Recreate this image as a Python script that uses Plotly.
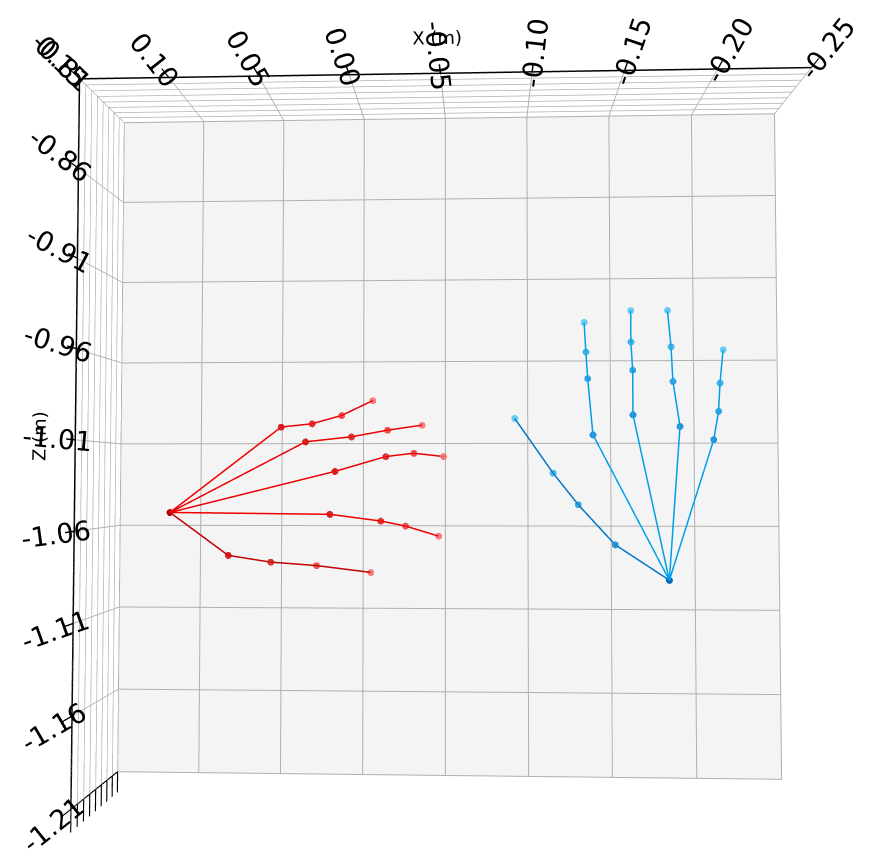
import plotly.graph_objects as go

# left hand (blue): wrist then five fingers, 4 joints each (x, z in metres)
left_wrist = (-0.184, -1.092)
left_fingers_x = [
    [-0.152, -0.130, -0.115, -0.092],
    [-0.139, -0.136, -0.135, -0.134],
    [-0.163, -0.163, -0.162, -0.162],
    [-0.191, -0.187, -0.186, -0.184],
    [-0.211, -0.214, -0.215, -0.217],
]
left_fingers_z = [
    [-1.071, -1.047, -1.028, -0.995],
    [-1.005, -0.971, -0.955, -0.937],
    [-0.993, -0.966, -0.949, -0.930],
    [-1.000, -0.973, -0.952, -0.930],
    [-1.008, -0.991, -0.974, -0.954],
]

# right hand (red)
right_wrist = (0.118, -1.052)
right_fingers_x = [
    [0.082, 0.056, 0.028, -0.005],
    [0.020, -0.011, -0.026, -0.046],
    [0.017, -0.014, -0.031, -0.049],
    [0.035, 0.007, -0.015, -0.036],
    [0.050, 0.031, 0.013, -0.006],
]
right_fingers_z = [
    [-1.078, -1.082, -1.084, -1.088],
    [-1.053, -1.057, -1.060, -1.066],
    [-1.027, -1.018, -1.016, -1.018],
    [-1.009, -1.006, -1.002, -0.999],
    [-1.000, -0.998, -0.993, -0.984],
]

y_range = [0, 0.4]
depth = 0.02
left_marker_colors = ["#0068b8", "#0a7fd0", "#1496e0", "#28aae8", "#50c4f4"]
right_marker_colors = ["#b00000", "#cc0000", "#dd1111", "#ee3333", "#f46a6a"]

fig = go.Figure()


def add_hand(wrist, fx, fz, line_colors, marker_colors):
    for i, (xs, zs) in enumerate(zip(fx, fz)):
        x = [wrist[0]] + xs
        z = [wrist[1]] + zs
        fig.add_trace(go.Scatter3d(
            x=x, y=[depth] * len(x), z=z,
            mode="lines+markers",
            line=dict(color=line_colors[i], width=3),
            marker=dict(size=4, color=marker_colors, opacity=0.85),
            showlegend=False,
        ))


add_hand(left_wrist, left_fingers_x, left_fingers_z,
         ["#0077cc"] + ["#00a0e8"] * 4, left_marker_colors)
add_hand(right_wrist, right_fingers_x, right_fingers_z,
         ["#c00000"] + ["#ee0000"] * 4, right_marker_colors)

x_ticks = [-0.25, -0.2, -0.15, -0.1, -0.05, 0.0, 0.05, 0.1, 0.15]
z_ticks = [-1.21, -1.16, -1.11, -1.06, -1.01, -0.96, -0.91, -0.86, -0.81]

axis_common = dict(
    showbackground=True, backgroundcolor="#f4f4f4",
    gridcolor="#b0b0b0", gridwidth=2,
    showline=True, linecolor="black", linewidth=3,
    ticks="outside", tickcolor="black", tickwidth=3, ticklen=18,
    tickfont=dict(size=18, color="black", family="DejaVu Sans"),
    zeroline=False,
)
title_font = dict(size=18, color="black", family="DejaVu Sans")

fig.update_layout(
    width=870, height=867,
    margin=dict(l=0, r=0, t=0, b=0),
    paper_bgcolor="white",
    scene=dict(
        xaxis=dict(axis_common, range=[-0.25, 0.15], autorange=False, tickvals=x_ticks,
                   ticktext=[f"{v:.2f}" for v in x_ticks], backgroundcolor="white",
                   title=dict(text="X (m)", font=title_font)),
        yaxis=dict(axis_common, range=y_range, autorange=False, showticklabels=False,
                   dtick=0.05, title=dict(text="")),
        zaxis=dict(axis_common, range=[-1.21, -0.81], autorange=False,
                   tickvals=z_ticks, ticktext=[f"{v:.2f}" for v in z_ticks],
                   backgroundcolor="white",
                   title=dict(text="Z (m)", font=title_font)),
        aspectmode="manual",
        aspectratio=dict(x=1, y=0.18, z=1),
        camera=dict(eye=dict(x=-0.06, y=1.5, z=-0.05), up=dict(x=0, y=0, z=-1),
                    center=dict(x=0, y=0, z=0)),
    ),
)

fig.write_html("out.html")
